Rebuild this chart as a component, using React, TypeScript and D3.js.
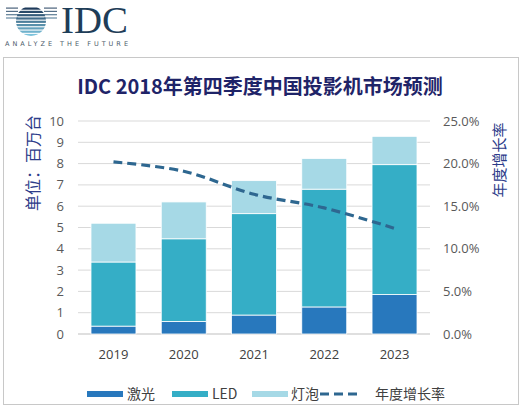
import React from "react";
import * as d3 from "d3";

const years = ["2019", "2020", "2021", "2022", "2023"];
const laser = [0.37, 0.59, 0.89, 1.27, 1.85];
const led = [3.01, 3.88, 4.76, 5.53, 6.1];
const bulb = [1.82, 1.73, 1.55, 1.44, 1.33];
const growth = [0.202, 0.191, 0.164, 0.148, 0.124];
const leftTicks = [0, 1, 2, 3, 4, 5, 6, 7, 8, 9, 10];
const rightTicks = [0, 0.05, 0.1, 0.15, 0.2, 0.25];
const seriesNames = ["激光", "LED", "灯泡", "年度增长率"];
const colors = ["#2878bd", "#35aec6", "#a6d9e6"];
const lineColor = "#2e6790";

const W = 529, H = 408;
const font = "'Noto Sans CJK SC', 'Noto Sans', sans-serif";

export default function App() {
  const x = d3.scaleBand<string>().domain(years).range([78, 430]).paddingInner(0.36).paddingOuter(0.185);
  const y = d3.scaleLinear().domain([0, 10]).range([334, 121]);
  const y2 = d3.scaleLinear().domain([0, 0.25]).range([334, 121]);

  const stackData = years.map((yr, i) => ({ yr, laser: laser[i], led: led[i], bulb: bulb[i] }));
  const stack = d3.stack<any>().keys(["laser", "led", "bulb"])(stackData);

  const line = d3
    .line<number>()
    .x((_, i) => (x(years[i]) as number) + x.bandwidth() / 2)
    .y((d) => y2(d))
    .curve(d3.curveCatmullRom.alpha(0.5));

  const stripes = d3.range(9);
  const stripeColors = d3.scaleLinear<string>().domain([0, 8]).range(["#1d3a5a", "#7cc3dc"]);

  const legendItems = [
    { x: 87, tx: 127, type: "rect", color: colors[0], label: seriesNames[0] },
    { x: 172, tx: 212, type: "rect", color: colors[1], label: seriesNames[1] },
    { x: 252, tx: 291, type: "rect", color: colors[2], label: seriesNames[2] },
    { x: 320, tx: 375, type: "line", color: lineColor, label: seriesNames[3] },
  ];

  return (
    <svg width={W} height={H} style={{ position: "absolute", left: 0, top: 0, background: "#fff" }} fontFamily={font}>
      <defs>
        <clipPath id="globe">
          <circle cx={31} cy={21} r={15} />
        </clipPath>
      </defs>
      {/* logo */}
      <g>
        {stripes.map((s) => {
          const yy = 7.5 + s * 3.3;
          const ext = s < 4 ? 8 : 0;
          return (
            <g key={s}>
              <rect x={16} y={yy} width={30} height={2.2} fill={stripeColors(s)} clipPath="url(#globe)" />
              {ext > 0 && (
                <rect x={6} y={yy} width={12} height={1.2} fill={stripeColors(s)} opacity={0.8} />
              )}
              {ext > 0 && (
                <rect x={44} y={yy} width={13} height={1.2} fill={stripeColors(s)} opacity={0.8} />
              )}
            </g>
          );
        })}
        <text x={61} y={33} fontFamily="'Liberation Serif', 'DejaVu Serif', serif" fontSize={37} fill="#1e3d58" textLength={67} lengthAdjust="spacingAndGlyphs">
          IDC
        </text>
        <text x={5} y={46} fontFamily="'DejaVu Sans', sans-serif" fontSize={6.5} letterSpacing={3} fill="#4a5a6a">
          ANALYZE THE FUTURE
        </text>
      </g>

      {/* frame */}
      <rect x={3.5} y={57.5} width={515} height={347} fill="#fff" stroke="#c8c8c8" strokeWidth={1} />

      <text x={260} y={94} textAnchor="middle" fontSize={20} fontWeight="bold" fill="#1f2468">
        IDC 2018年第四季度中国投影机市场预测
      </text>

      {/* gridlines */}
      {leftTicks.map((t) => (
        <line key={t} x1={78} x2={430} y1={y(t)} y2={y(t)} stroke={t === 0 ? "#bfbfbf" : "#d9d9d9"} strokeWidth={1} />
      ))}
      {leftTicks.map((t) => (
        <text key={"l" + t} x={64} y={y(t)} dy="0.35em" textAnchor="end" fontSize={13} fill="#595959" fontFamily="'Open Sans', sans-serif">
          {t}
        </text>
      ))}
      {rightTicks.map((t) => (
        <text key={"r" + t} x={443} y={y2(t)} dy="0.35em" textAnchor="start" fontSize={13} fill="#595959" fontFamily="'Open Sans', sans-serif">
          {(t * 100).toFixed(1) + "%"}
        </text>
      ))}

      {/* bars */}
      {stack.map((s, si) => (
        <g key={si} fill={colors[si]}>
          {s.map((d: any, i: number) => (
            <rect
              key={i}
              x={x(years[i])}
              y={y(d[1])}
              width={x.bandwidth()}
              height={y(d[0]) - y(d[1])}
              stroke="#fff"
              strokeWidth={0.8}
            />
          ))}
        </g>
      ))}

      <path d={line(growth) || ""} fill="none" stroke={lineColor} strokeWidth={3.2} strokeDasharray="9,5" />

      {years.map((yr) => (
        <text key={yr} x={(x(yr) as number) + x.bandwidth() / 2} y={354} dy="0.35em" textAnchor="middle" fontSize={13} fill="#404040" fontFamily="'Open Sans', sans-serif">
          {yr}
        </text>
      ))}

      <text transform="translate(33,163) rotate(-90)" textAnchor="middle" dy="0.35em" fontSize={16} fill="#2d3c8a">
        单位：百万台
      </text>
      <text transform="translate(500,160) rotate(-90)" textAnchor="middle" dy="0.35em" fontSize={15} fill="#2d3c8a">
        年度增长率
      </text>

      {/* legend */}
      {legendItems.map((it, i) => (
        <g key={i}>
          {it.type === "rect" ? (
            <rect x={it.x} y={391} width={36} height={6} fill={it.color} />
          ) : (
            <line x1={it.x} x2={it.x + 42} y1={394} y2={394} stroke={it.color} strokeWidth={3.2} strokeDasharray="9,5" />
          )}
          <text x={it.tx} y={394} dy="0.35em" fontSize={14} fill="#404040">
            {it.label}
          </text>
        </g>
      ))}
    </svg>
  );
}
